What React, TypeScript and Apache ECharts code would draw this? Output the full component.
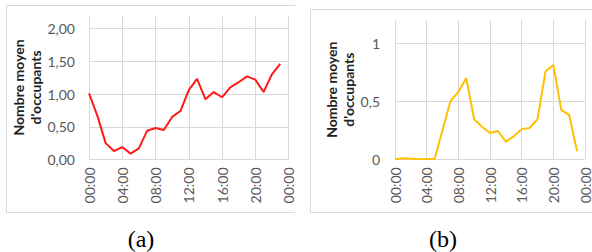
import React, { useEffect, useRef } from "react";
import * as echarts from "echarts";

const hours = [0, 1, 2, 3, 4, 5, 6, 7, 8, 9, 10, 11, 12, 13, 14, 15, 16, 17, 18, 19, 20, 21, 22, 23];
const xTickLabels = ["00:00", "04:00", "08:00", "12:00", "16:00", "20:00", "00:00"];
const occupantsA = [1.01, 0.67, 0.25, 0.13, 0.19, 0.09, 0.17, 0.44, 0.48, 0.45, 0.65, 0.74, 1.06, 1.23, 0.92, 1.03, 0.95, 1.1, 1.18, 1.27, 1.22, 1.03, 1.3, 1.46];
const occupantsB = [0, 0.01, 0.005, 0, 0.003, 0.003, 0.25, 0.5, 0.58, 0.7, 0.345, 0.28, 0.227, 0.244, 0.152, 0.198, 0.26, 0.27, 0.345, 0.756, 0.813, 0.425, 0.382, 0.07];
const yTitle = "Nombre moyen\nd'occupants";
const captions = ["(a)", "(b)"];

const labelStyle = { color: "#595959", fontFamily: "Lato", fontSize: 14 };
const gridColor = "#d9d9d9";

export default function App() {
  const ref = useRef<HTMLDivElement>(null);
  useEffect(() => {
    if (!ref.current) return;
    const chart = echarts.init(ref.current, undefined, { renderer: "svg" });
    const xFmt = (v: number) => xTickLabels[Math.round(v / 4)] ?? "";
    const mkX = (gridIndex: number) => ({
      gridIndex,
      type: "value",
      min: 0,
      max: 24,
      interval: 4,
      axisLine: { show: false },
      axisTick: { show: false },
      axisLabel: { ...labelStyle, rotate: 90, margin: 8, formatter: xFmt },
      splitLine: { show: true, lineStyle: { color: gridColor, width: 1 } },
    });
    const nameStyle = { fontFamily: "Lato", fontWeight: "bold", fontSize: 14, lineHeight: 17, color: "#222" };
    const option: any = {
      animation: false,
      grid: [
        { left: 89, top: 15.4, width: 199.5, height: 144.1 },
        { left: 395, top: 20, width: 204, height: 139.3 },
      ],
      xAxis: [mkX(0), mkX(1)],
      yAxis: [
        {
          gridIndex: 0,
          type: "value",
          min: 0,
          max: 2.2,
          interval: 0.5,
          axisLine: { show: false },
          axisTick: { show: false },
          axisLabel: {
            ...labelStyle,
            margin: 14,
            showMaxLabel: false,
            formatter: (v: number) => v.toFixed(2).replace(".", ","),
          },
          splitLine: { show: true, showMaxLine: false, lineStyle: { color: gridColor, width: 1 } },
          name: yTitle,
          nameLocation: "middle",
          nameRotate: 90,
          nameGap: 43,
          nameTextStyle: nameStyle,
        },
        {
          gridIndex: 1,
          type: "value",
          min: 0,
          max: 1.2,
          interval: 0.5,
          axisLine: { show: false },
          axisTick: { show: false },
          axisLabel: {
            ...labelStyle,
            margin: 15,
            showMaxLabel: false,
            formatter: (v: number) => String(v).replace(".", ","),
          },
          splitLine: { show: true, showMaxLine: false, lineStyle: { color: gridColor, width: 1 } },
          name: yTitle,
          nameLocation: "middle",
          nameRotate: 90,
          nameGap: 36,
          nameTextStyle: nameStyle,
        },
      ],
      series: [
        {
          type: "line",
          xAxisIndex: 0,
          yAxisIndex: 0,
          data: hours.map((h, i) => [h, occupantsA[i]]),
          symbol: "none",
          lineStyle: { color: "#ff1a1a", width: 2 },
        },
        {
          type: "line",
          xAxisIndex: 1,
          yAxisIndex: 1,
          data: hours.map((h, i) => [h, occupantsB[i]]),
          symbol: "none",
          lineStyle: { color: "#ffc000", width: 2 },
        },
      ],
      graphic: [
        {
          type: "polyline",
          shape: { points: [[295, 5.5], [6.5, 5.5], [6.5, 212.5], [295, 212.5]] },
          style: { stroke: gridColor, fill: "none", lineWidth: 1 },
          silent: true,
        },
        {
          type: "polyline",
          shape: { points: [[592, 9.5], [310.5, 9.5], [310.5, 212.5], [592, 212.5]] },
          style: { stroke: gridColor, fill: "none", lineWidth: 1 },
          silent: true,
        },
        {
          type: "text",
          x: 141,
          y: 239,
          style: {
            text: captions[0],
            fontFamily: "Liberation Serif",
            fontSize: 24,
            fill: "#000",
            align: "center",
            verticalAlign: "middle",
          },
        },
        {
          type: "text",
          x: 443,
          y: 239,
          style: {
            text: captions[1],
            fontFamily: "Liberation Serif",
            fontSize: 24,
            fill: "#000",
            align: "center",
            verticalAlign: "middle",
          },
        },
      ],
    };
    chart.setOption(option);
    return () => chart.dispose();
  }, []);
  return (
    <div
      ref={ref}
      style={{ position: "fixed", left: 0, top: 0, width: 592, height: 252, background: "#fff" }}
    />
  );
}
